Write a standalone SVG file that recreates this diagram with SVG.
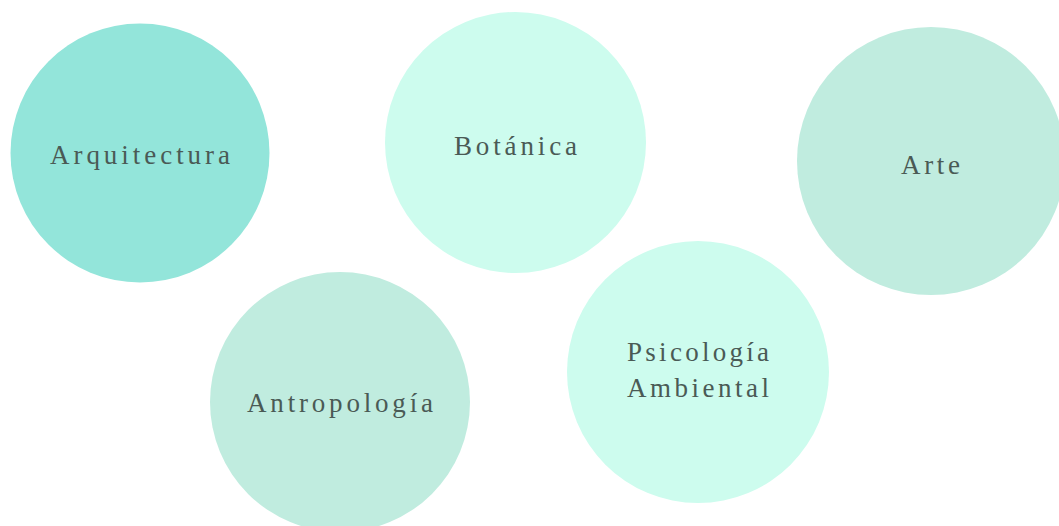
<svg xmlns="http://www.w3.org/2000/svg" width="1059" height="526" viewBox="0 0 1059 526">
<style>
.lbl{font-family:"Liberation Serif","DejaVu Serif",serif;font-size:27px;fill:#4a5a55;}
.c1{fill:#93e5da;}
.c2{fill:#cdfcee;}
.c3{fill:#c0ecdf;}
</style>
<rect width="1059" height="526" fill="#ffffff"/>
<g id="connectors"></g>
<g id="arquitectura">
<circle class="c1" cx="140" cy="153" r="129.5"/>
<text class="lbl" x="50" y="164" textLength="180" lengthAdjust="spacing">Arquitectura</text>
</g>
<g id="botanica">
<circle class="c2" cx="515.5" cy="142.5" r="130.5"/>
<text class="lbl" x="454" y="155" textLength="123" lengthAdjust="spacing">Botánica</text>
</g>
<g id="arte">
<circle class="c3" cx="931" cy="161" r="134"/>
<text class="lbl" x="901" y="174" textLength="59" lengthAdjust="spacing">Arte</text>
</g>
<g id="antropologia">
<circle class="c3" cx="340" cy="402" r="130"/>
<text class="lbl" x="247" y="412" textLength="186" lengthAdjust="spacing">Antropología</text>
</g>
<g id="psicologia">
<circle class="c2" cx="698" cy="372" r="131"/>
<text class="lbl" x="627" y="361" textLength="142" lengthAdjust="spacing">Psicología</text>
<text class="lbl" x="627" y="397" textLength="142" lengthAdjust="spacing">Ambiental</text>
</g>
</svg>
